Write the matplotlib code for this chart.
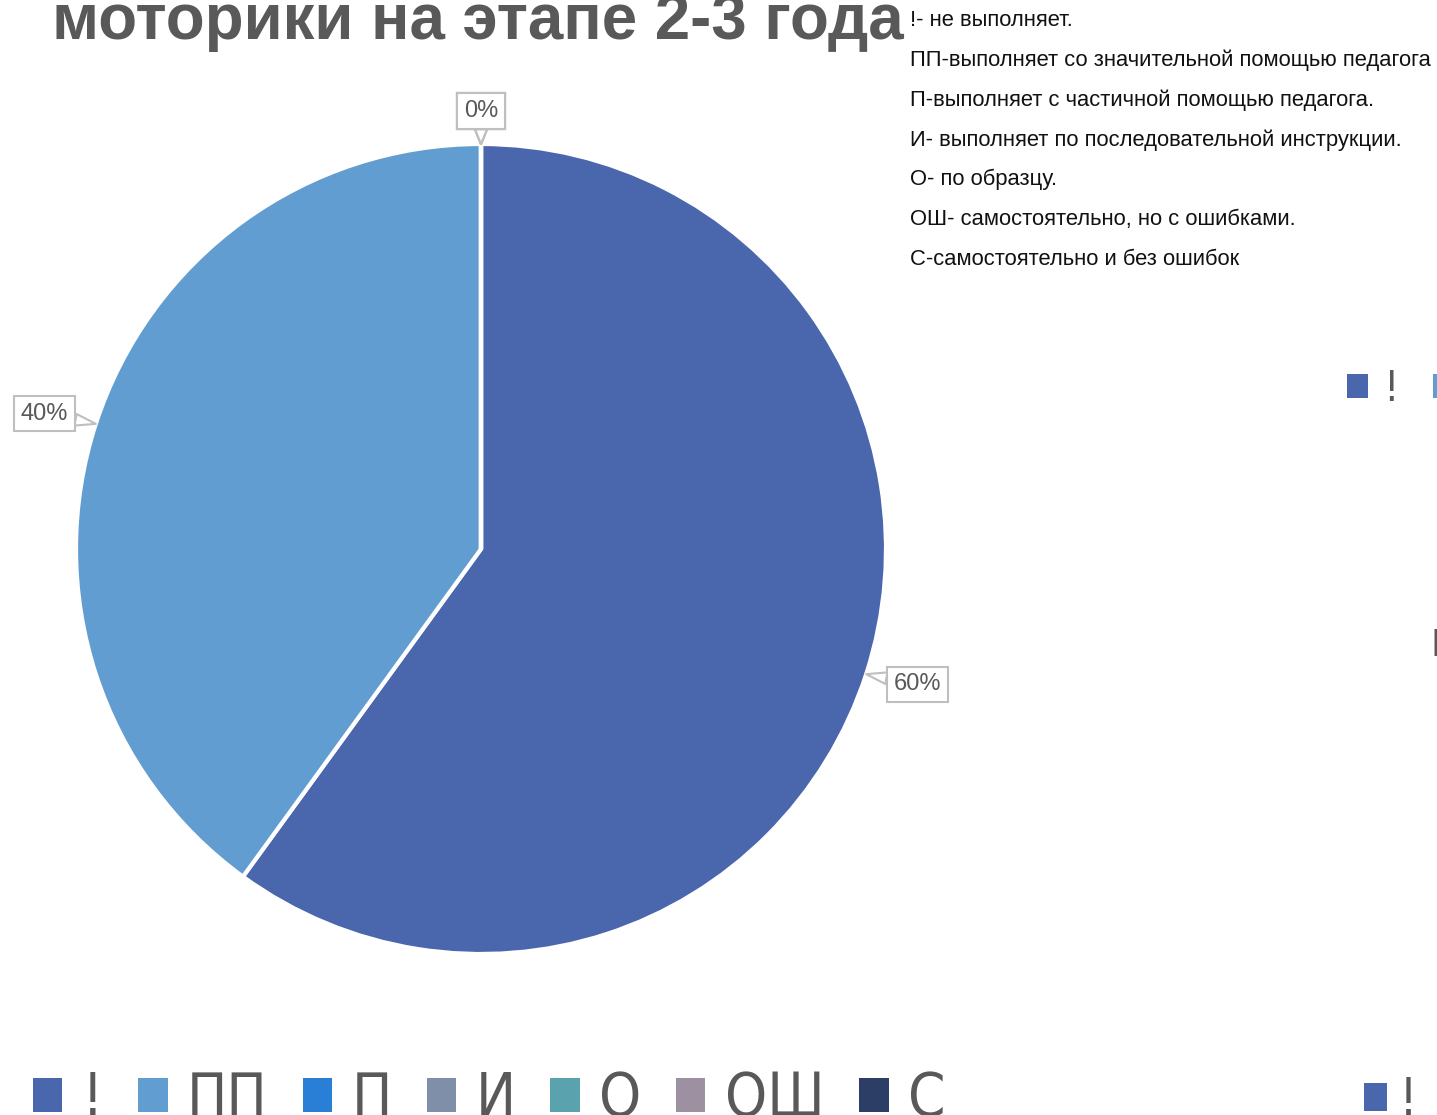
import numpy as np
import matplotlib.pyplot as plt
from matplotlib.patches import Patch

W, H = 1437, 1115

categories = ["!", "ПП", "П", "И", "О", "ОШ", "С"]
shares = [60, 40, 0, 0, 0, 0, 0]
colors = ["#4A66AC", "#629DD1", "#297FD5", "#7F8FA9", "#5AA2AE", "#9D90A0", "#2C3D66"]

title = "моторики на этапе 2-3 года"
notes = [
    "!- не выполняет.",
    "ПП-выполняет со значительной помощью педагога",
    "П-выполняет с частичной помощью педагога.",
    "И- выполняет по последовательной инструкции.",
    "О- по образцу.",
    "ОШ- самостоятельно, но с ошибками.",
    "С-самостоятельно и без ошибок",
]

GREY = "#595959"
plt.rcParams["font.family"] = ["Liberation Sans", "DejaVu Sans"]
NARROW = dict(family="DejaVu Sans", stretch="condensed")


def fx(px):
    return px / W


def fy(py):
    # pixel row from top -> figure fraction
    return 1 - py / H


def main():
    fig = plt.figure(figsize=(W / 100, H / 100), dpi=100)
    ax = fig.add_axes([0, 0, 1, 1])

    center = (481, H - 549)
    radius = 405
    ax.pie(shares, colors=colors, startangle=90, counterclock=False,
           radius=radius, center=center,
           wedgeprops=dict(edgecolor="white", linewidth=3))
    ax.set_xlim(0, W)
    ax.set_ylim(0, H)
    ax.set_aspect("equal")
    ax.axis("off")

    # data labels with callout boxes
    total = sum(shares)
    cum = 0
    for v in shares:
        mid = np.deg2rad(90 - 360 * (cum + v / 2) / total)
        cum += v
        ux, uy = np.cos(mid), np.sin(mid)
        tip = (center[0] + radius * ux, center[1] + radius * uy)
        box = (tip[0] + 54 * ux, tip[1] + 33 * uy)
        ax.annotate(f"{v / total:.0%}", xy=tip, xytext=box,
                    ha="center", va="center", fontsize=17, color=GREY,
                    bbox=dict(boxstyle="square,pad=0.28", fc="white",
                              ec="#BFBFBF", lw=1.5),
                    arrowprops=dict(arrowstyle="wedge,tail_width=0.5",
                                    fc="white", ec="#BFBFBF", lw=1.5,
                                    shrinkA=0, shrinkB=0))

    # title (cut off at the top in the original)
    fig.text(fx(52), fy(39), title, fontsize=45.8, fontweight="bold",
             color=GREY, ha="left", va="baseline")

    # explanation block on the right
    for i, line in enumerate(notes):
        fig.text(fx(910), fy(26.5 + i * 39.7), line, fontsize=15.8,
                 color="#111111", ha="left", va="baseline")

    handles = [Patch(facecolor=c, edgecolor="none") for c in colors]

    # main legend at the bottom
    leg = fig.legend(handles, categories, loc="lower left", ncol=7,
                     bbox_to_anchor=(fx(33), -0.013), frameon=False,
                     borderpad=0, borderaxespad=0,
                     handlelength=0.49, handleheight=0.49,
                     handletextpad=0.33, columnspacing=0.58,
                     prop=dict(NARROW, size=43))
    for t in leg.get_texts():
        t.set_color(GREY)

    # pieces of the neighbouring chart, cut by the right edge
    leg2 = fig.legend(handles, categories, loc="center left", ncol=7,
                      bbox_to_anchor=(fx(1347), fy(389)), frameon=False,
                      borderpad=0, borderaxespad=0,
                      handlelength=0.49, handleheight=0.49,
                      handletextpad=0.34, columnspacing=0.8,
                      prop=dict(NARROW, size=31))
    for t in leg2.get_texts():
        t.set_color(GREY)

    leg3 = fig.legend(handles, categories, loc="center left", ncol=7,
                      bbox_to_anchor=(fx(1364), fy(1101)), frameon=False,
                      borderpad=0, borderaxespad=0,
                      handlelength=0.43, handleheight=0.43,
                      handletextpad=0.24, columnspacing=0.8,
                      prop=dict(NARROW, size=38))
    for t in leg3.get_texts():
        t.set_color(GREY)

    fig.text(fx(1431), fy(656), "П", fontsize=27, fontweight="bold",
             color=GREY, ha="left", va="baseline")

    fig.savefig("out.png", dpi=100)
    plt.close(fig)


if __name__ == "__main__":
    main()
